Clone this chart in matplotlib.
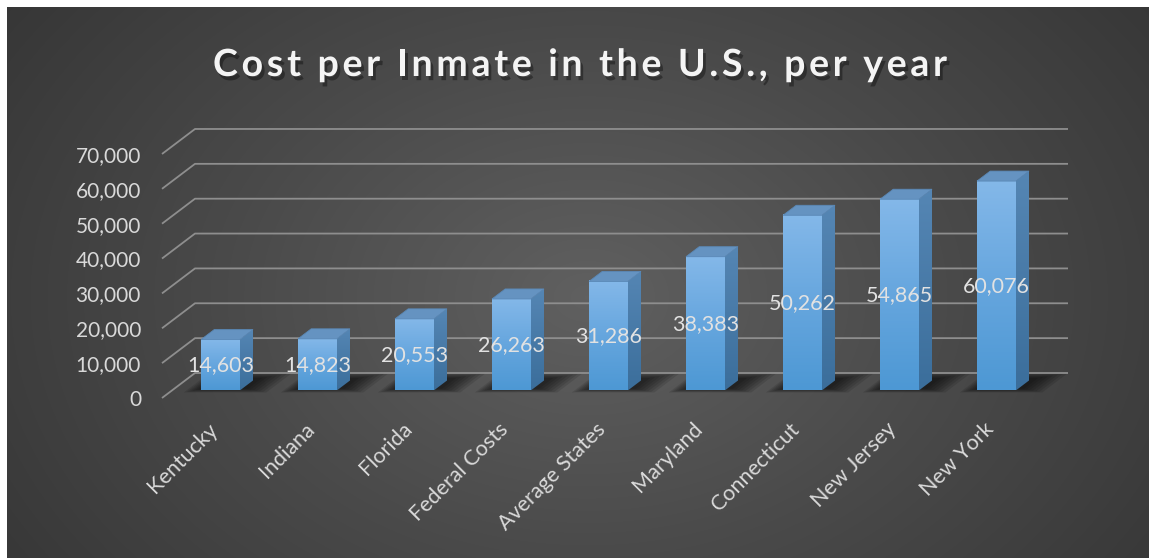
import numpy as np
import matplotlib.pyplot as plt
import matplotlib.patheffects as pe
from matplotlib.patches import Polygon
from matplotlib.colors import LinearSegmentedColormap

states = ["Kentucky", "Indiana", "Florida", "Federal Costs", "Average States",
          "Maryland", "Connecticut", "New Jersey", "New York"]
cost = [14603, 14823, 20553, 26263, 31286, 38383, 50262, 54865, 60076]
yticks = [0, 10000, 20000, 30000, 40000, 50000, 60000, 70000]
title = "Cost per Inmate in the U.S., per year"

W, H = 1149, 558
fig = plt.figure(figsize=(W / 100, H / 100), dpi=100, facecolor="white")

# dark radial background panel (white strip at top/left like the screenshot)
bg = fig.add_axes([7 / W, 0, 1 - 7 / W, 1 - 7 / H])
yy, xx = np.mgrid[0:H - 7, 0:W - 7]
r = np.sqrt(((xx - 580) / 720.0) ** 2 + ((yy - 290) / 520.0) ** 2)
bg_cmap = LinearSegmentedColormap.from_list("bg", ["#606060", "#4a4a4a", "#363636"])
bg.imshow(np.clip(r, 0, 1), cmap=bg_cmap, vmin=0, vmax=1, aspect="auto")
bg.axis("off")

ax = fig.add_axes([0, 0, 1, 1])
ax.patch.set_alpha(0)
ax.axis("off")

# oblique projection constants (pixels)
cat_px = 97.0
val_px = 34.86 / 10000
x0, y0 = 162, 398
ddx = 33 / cat_px
ddy = 25 / val_px
n = len(states)


def pt(u, v, d):
    return (u + d * ddx, v + d * ddy)


# gridlines: left wall diagonal + back wall line
for t in yticks:
    a, b, c = pt(-0.5, t, 0), pt(-0.5, t, 1), pt(n - 0.5, t, 1)
    ax.plot([a[0], b[0], c[0]], [a[1], b[1], c[1]], color="#8e8e8e", lw=1.3,
            zorder=2, solid_capstyle="butt")
    ax.annotate(f"{t:,}", xy=pt(-0.5, t, 0), xytext=(-21, -2),
                textcoords="offset pixels", ha="right", va="center",
                color="#d9d9d9", fontsize=15, family="Lato")

front_cm = LinearSegmentedColormap.from_list("f", ["#84b8e9", "#66a6de", "#4d98d4"])
side_cm = LinearSegmentedColormap.from_list("s", ["#5586b4", "#3b6e9b"])
grad = np.linspace(0, 1, 256).reshape(-1, 1)

d0, d1, hw = 0.3, 0.7, 0.2
for i, v in enumerate(cost):
    u0, u1 = i - hw, i + hw

    # soft floor shadow
    for k in range(7):
        s = k / 6.0
        ua, ub = u0 - 0.13 * (1 - s) - 0.02, u1 + 0.24 * (1 - s) + 0.06
        da, db = 0.22 + 0.15 * s, 1.0 - 0.2 * s
        poly = [pt(ua, 0, da), pt(ub, 0, da), pt(ub, 0, db), pt(ua, 0, db)]
        ax.add_patch(Polygon(poly, closed=True, facecolor="black", edgecolor="none",
                             alpha=0.11, zorder=1))

    z = 3 + i
    # front face
    fl, fb = pt(u0, 0, d0)
    fr, ft = pt(u1, v, d0)
    ax.imshow(grad, cmap=front_cm, extent=[fl, fr, fb, ft], aspect="auto",
              origin="upper", zorder=z, interpolation="bilinear")
    # right side face
    side = [pt(u1, 0, d0), pt(u1, 0, d1), pt(u1, v, d1), pt(u1, v, d0)]
    sp = Polygon(side, closed=True, facecolor="none", edgecolor="none", zorder=z)
    ax.add_patch(sp)
    xs = [p[0] for p in side]
    ys = [p[1] for p in side]
    im = ax.imshow(grad, cmap=side_cm, extent=[min(xs), max(xs), min(ys), max(ys)],
                   aspect="auto", origin="upper", zorder=z, interpolation="bilinear")
    im.set_clip_path(sp)
    # top face
    top = [pt(u0, v, d0), pt(u1, v, d0), pt(u1, v, d1), pt(u0, v, d1)]
    ax.add_patch(Polygon(top, closed=True, facecolor="#6593c1", edgecolor="#5a88b6",
                         lw=0.6, zorder=z))

    # data label
    ax.text(*pt(i, v / 2, d0), f"{v:,}", ha="center", va="center", color="#e2e2e2",
            fontsize=15.5, family="Lato", zorder=20)

    # category label
    ax.annotate(states[i], xy=pt(i, 0, 0), xytext=(4, -28), textcoords="offset pixels",
                ha="right", va="center", rotation=45, rotation_mode="anchor",
                color="#d9d9d9", fontsize=15.5, family="Lato")

ax.set_xlim(-0.5 - x0 / cat_px, -0.5 + (W - x0) / cat_px)
ax.set_ylim(-(H - y0) / val_px, y0 / val_px)

# title with wide letter spacing
tp = dict(family="Lato", weight="bold", size=27)
rend = fig.canvas.get_renderer()


def text_w(s):
    t = fig.text(0, 0, s, **tp)
    w = t.get_window_extent(rend).width
    t.remove()
    return w


natural = text_w(title)
spacing = (734 - natural) / (len(title) - 1)
for k, ch in enumerate(title):
    if ch == " ":
        continue
    xk = text_w(title[:k + 1]) - text_w(ch) + k * spacing
    fig.text((213 + xk) / W, (H - 76) / H, ch, ha="left", va="baseline",
             color="#f4f4f4", **tp,
             path_effects=[pe.withSimplePatchShadow(offset=(2, -3), shadow_rgbFace="black",
                                                    alpha=0.35)])

fig.savefig("out.png", dpi=100, facecolor="white")
